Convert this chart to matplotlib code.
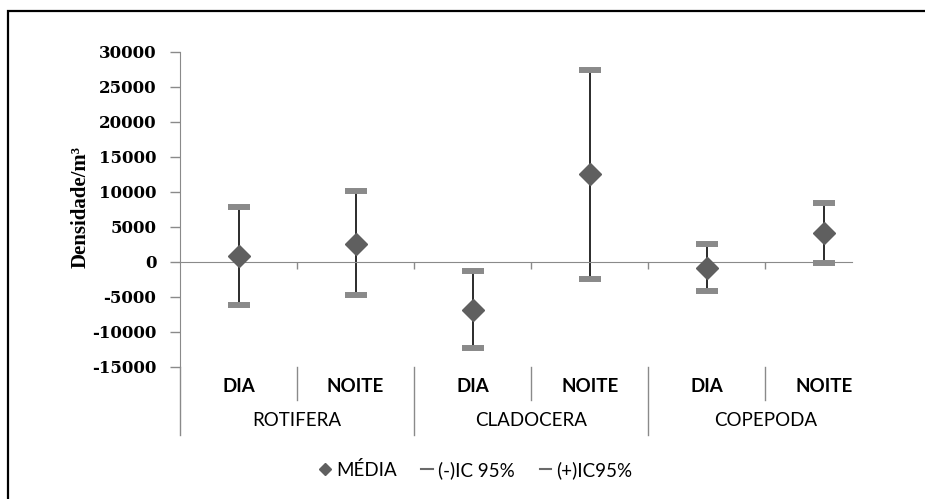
import matplotlib.pyplot as plt
from matplotlib.lines import Line2D
from matplotlib.patches import Rectangle
from matplotlib.transforms import blended_transform_factory

plt.rcParams['font.family'] = ['Lato', 'DejaVu Sans']
plt.rcParams['axes.unicode_minus'] = False

# Densidade média e limites do IC 95% por grupo e período
grupos = ["ROTIFERA", "CLADOCERA", "COPEPODA"]
periodos = ["DIA", "NOITE", "DIA", "NOITE", "DIA", "NOITE"]
media = [800, 2600, -6900, 12600, -800, 4200]
ic_menos = [-6100, -4650, -12300, -2450, -4100, -100]
ic_mais = [7800, 10200, -1350, 27400, 2500, 8400]

W, H = 925, 499
fig = plt.figure(figsize=(W / 100, H / 100), dpi=100)
ax = fig.add_axes([180 / W, 1 - 367 / H, 672 / W, 315 / H])

x = list(range(len(media)))

# linhas máximo-mínimo
ax.vlines(x, ic_menos, ic_mais, color="#1a1a1a", lw=1.3, zorder=2)
ax.plot(x, ic_menos, ls="none", marker="_", ms=16, mew=4.3, color="#8a8a8a",
        zorder=3)
ax.plot(x, ic_mais, ls="none", marker="_", ms=16, mew=4.3, color="#8a8a8a",
        zorder=3)
ax.plot(x, media, ls="none", marker="D", ms=11, color="#5f5f5f", zorder=4)

ax.set_xlim(-0.5, 5.24)
ax.set_ylim(-15000, 30000)
ax.set_yticks(range(-15000, 30001, 5000))
ax.tick_params(axis="y", direction="out", length=7, width=1, color="#8a8a8a",
               pad=10)
for lab in ax.get_yticklabels():
    lab.set_family(["DejaVu Serif"])
    lab.set_fontweight("bold")
    lab.set_fontsize(12)

ax.spines["top"].set_visible(False)
ax.spines["right"].set_visible(False)
ax.spines["left"].set_color("#8a8a8a")
ax.spines["bottom"].set_color("#8a8a8a")
ax.spines["bottom"].set_position(("data", 0))
ax.set_xticks([i + 0.5 for i in range(5)])
ax.set_xticklabels([])
ax.tick_params(axis="x", direction="out", length=5, width=1, color="#8a8a8a")

# eixo de categorias em dois níveis
tr = blended_transform_factory(ax.transData, ax.transAxes)
for i in range(6):
    lo = -0.217 if i % 2 == 0 else -0.106
    ax.plot([i - 0.5, i - 0.5], [0, lo], transform=tr, color="#8a8a8a",
            lw=1, clip_on=False)
for i, p in enumerate(periodos):
    ax.text(i, -0.063, p, transform=tr, ha="center", va="center",
            fontsize=13.5, fontweight="bold")
for g, nome in enumerate(grupos):
    ax.text(2 * g + 0.5, -0.17, nome, transform=tr, ha="center", va="center",
            fontsize=13.5)

fig.text(81 / W, 1 - 207 / H, "Densidade/m³", rotation=90, ha="center",
         va="center", fontsize=15, fontweight="bold",
         family=["Liberation Serif", "DejaVu Serif"])

handles = [
    Line2D([], [], ls="none", marker="D", ms=6.5, color="#5f5f5f"),
    Line2D([], [], ls="-", lw=1.5, color="#6a6a6a"),
    Line2D([], [], ls="-", lw=1.5, color="#6a6a6a"),
]
fig.legend(handles, ["MÉDIA", "(-)IC 95%", "(+)IC95%"], loc="center",
           bbox_to_anchor=(476 / W, 1 - 470 / H), ncol=3, frameon=False,
           fontsize=13.5, handlelength=0.6, handletextpad=0.3,
           columnspacing=1.3, borderpad=0)

# moldura externa
fig.add_artist(Rectangle((8 / W, -0.1), 1.0, 1 - 11 / H + 0.1,
                         transform=fig.transFigure, fill=False,
                         edgecolor="black", lw=1.6))

fig.savefig("out.png", dpi=100)
